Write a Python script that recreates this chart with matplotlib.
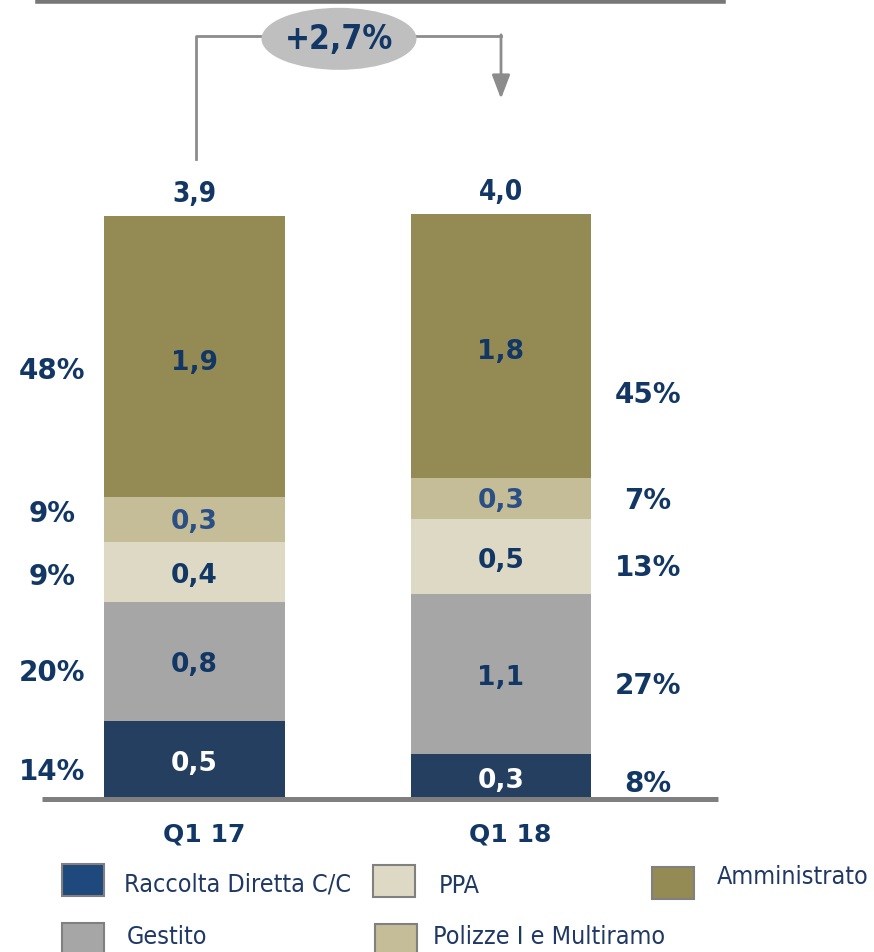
import matplotlib
matplotlib.use("Agg")
import matplotlib.pyplot as plt
from matplotlib.patches import Ellipse, Rectangle
from matplotlib.lines import Line2D

# ---- data ----
categories = ["Q1 17", "Q1 18"]
series = ["Raccolta Diretta C/C", "Gestito", "PPA", "Polizze I e Multiramo", "Amministrato"]
# segment heights (bn), bottom to top
raccolta = [0.52, 0.30]
gestito = [0.80, 1.07]
ppa = [0.40, 0.50]
polizze = [0.30, 0.28]
amministrato = [1.88, 1.76]
# displayed labels
value_labels_q117 = ["0,5", "0,8", "0,4", "0,3", "1,9"]
value_labels_q118 = ["0,3", "1,1", "0,5", "0,3", "1,8"]
pct_labels_q117 = ["14%", "20%", "9%", "9%", "48%"]
pct_labels_q118 = ["8%", "27%", "13%", "7%", "45%"]
totals_labels = ["3,9", "4,0"]
growth_label = "+2,7%"

colors = ["#253F60", "#A6A6A6", "#DDD9C4", "#C4BD97", "#948A54"]
legend_colors = ["#1F497D", "#A6A6A6", "#DDD9C4", "#C4BD97", "#948A54"]
navy = "#123765"

W, H = 874, 953
fig = plt.figure(figsize=(W / 100, H / 100), dpi=100)
ax = fig.add_axes([0, (H - 800) / H, 1, 800 / H])
ax.set_xlim(-194.5 / 306.5, (W - 194.5) / 306.5)
ax.set_ylim(0, 5.35)
ax.axis("off")

x = [0, 1]
stack = [raccolta, gestito, ppa, polizze, amministrato]
bottoms = [0.0, 0.0]
seg_centers = []
for vals, col in zip(stack, colors):
    ax.bar(x, vals, width=0.59, bottom=bottoms, color=col, edgecolor="none")
    seg_centers.append([b + v / 2 for b, v in zip(bottoms, vals)])
    bottoms = [b + v for b, v in zip(bottoms, vals)]

bold = dict(fontweight="bold", family="DejaVu Sans")
cond_bold = dict(fontweight="bold", family="DejaVu Sans", fontstretch="condensed")
cond = dict(family="DejaVu Sans", fontstretch="condensed")

# value labels inside bars
label_colors = ["white", navy, navy, "#2A4F85", navy]
label_offsets = [-0.02, -0.02, -0.02, -0.01, -0.035]
for i in range(5):
    ax.text(0, seg_centers[i][0] + label_offsets[i], value_labels_q117[i], ha="center",
            va="center", fontsize=19, color=label_colors[i], **bold)
    ax.text(1, seg_centers[i][1] + label_offsets[i], value_labels_q118[i], ha="center",
            va="center", fontsize=19, color=label_colors[i], **bold)

# percentage labels
left_y = [0.19, 0.85, 1.49, 1.91, 2.87]
right_y = [0.11, 0.76, 1.55, 2.0, 2.71]
for i in range(5):
    ax.text(-0.465, left_y[i], pct_labels_q117[i], ha="center", va="center",
            fontsize=20, color=navy, **bold)
    ax.text(1.48, right_y[i], pct_labels_q118[i], ha="center", va="center",
            fontsize=20, color=navy, **bold)

# totals
for xi, tot, lab in zip(x, bottoms, totals_labels):
    ax.text(xi, tot + 0.155, lab, ha="center", va="center", fontsize=20, color=navy, **cond_bold)

# baseline
ax.plot([-0.4976, 1.708], [0, 0], color="#7F7F7F", lw=3.6, solid_capstyle="butt", clip_on=False)

# category labels
for xi, c in zip(x, categories):
    ax.text(xi + 0.03, -0.23, c, ha="center", va="center", fontsize=18, color=navy, **bold)

# growth connector
yl = (800 - 37) / 149.5
ax.plot([0.005, 0.005, 0.4], [4.28, yl, yl], color="#8C8C8C", lw=2, clip_on=False)
ax.plot([0.55, 1.0], [yl, yl], color="#8C8C8C", lw=2, clip_on=False)
ax.annotate("", xy=(1.0, (800 - 100) / 149.5), xytext=(1.0, yl + 0.007),
            arrowprops=dict(arrowstyle="-|>,head_length=1.45,head_width=0.55",
                            color="#8C8C8C", lw=2, shrinkA=0, shrinkB=0))
ell = Ellipse(((339 - 194.5) / 306.5, (800 - 40) / 149.5), 155 / 306.5, 62 / 149.5,
              facecolor="#BFBFBF", edgecolor="none", clip_on=False, zorder=3)
ax.add_patch(ell)
ax.text((339 - 194.5) / 306.5, (800 - 40) / 149.5, growth_label, ha="center", va="center",
        fontsize=24, color=navy, zorder=4, **cond_bold)

# top line
fig.add_artist(Line2D([38 / W, 723 / W], [1 - 2 / H, 1 - 2 / H], color="#777777", lw=4))

# legend
leg_pos = [(62, 865, 124, 885), (62, 924, 127, 937), (373, 866, 439, 886),
           (375, 925, 433, 937), (652, 868, 717, 877)]
for (sx, sy, tx, ty), col, name in zip(leg_pos, legend_colors, series):
    fig.add_artist(Rectangle((sx / W, 1 - (sy + 32) / H), 42 / W, 32 / H,
                             facecolor=col, edgecolor="#808080", lw=1.5))
    fig.text(tx / W, 1 - ty / H, name, ha="left", va="center", fontsize=18,
             color="#1F3864", **cond)

fig.savefig("out.png", dpi=100)
